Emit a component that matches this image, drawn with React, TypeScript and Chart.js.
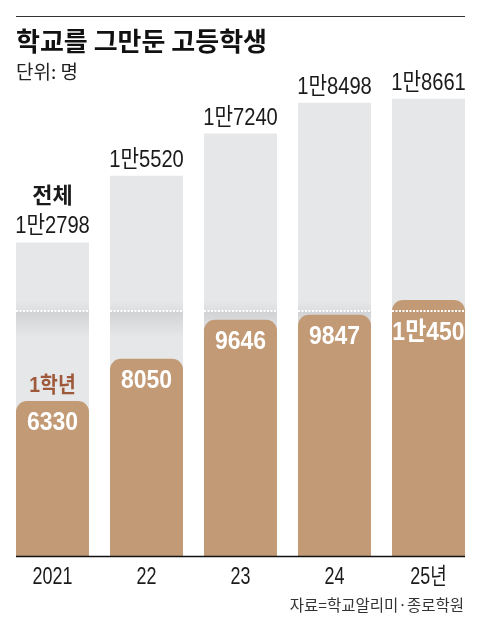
import React, { useEffect, useRef } from "react";
import { Chart, registerables } from "chart.js";

Chart.register(...registerables);

const categories = ["2021", "22", "23", "24", "25년"];
const totalValues = [12798, 15520, 17240, 18498, 18661];
const firstYearValues = [6330, 8050, 9646, 9847, 10450];
const totalLabels = ["1만2798", "1만5520", "1만7240", "1만8498", "1만8661"];
const firstYearLabels = ["6330", "8050", "9646", "9847", "1만450"];
const breakValue = 10000;
const yMax = 19000;
const titleText = "학교를 그만둔 고등학생";
const unitText = "단위: 명";
const totalSeriesName = "전체";
const firstYearSeriesName = "1학년";
const sourceText = "자료=학교알리미·종로학원";

const NUM_FONT = "'Liberation Sans', 'Noto Sans CJK KR', sans-serif";
const KR_FONT = "'Noto Sans CJK KR', 'Noto Sans', sans-serif";

const GRAY = "#e6e7e8";
const BROWN = "#c29a75";
const BROWN_TEXT = "#9e583a";

function condensedText(ctx: CanvasRenderingContext2D, text: string, x: number, y: number, sx: number) {
  ctx.save();
  ctx.translate(x, y);
  ctx.scale(sx, 1);
  ctx.fillText(text, 0, 0);
  ctx.restore();
}

const decorPlugin = {
  id: "decor",
  afterDatasetDraw(chart: any, args: any) {
    if (args.index !== 1) return;
    const ctx = chart.ctx;
    const y = chart.scales.y.getPixelForValue(breakValue);
    ctx.save();
    args.meta.data.forEach((bar: any) => {
      const { x, width } = bar.getProps(["x", "width"], true);
      const left = x - width / 2;
      const g = ctx.createLinearGradient(0, y, 0, y + 26);
      g.addColorStop(0, "rgba(150,155,160,0.28)");
      g.addColorStop(1, "rgba(150,155,160,0)");
      ctx.fillStyle = g;
      ctx.fillRect(left, y, width, 26);
      const g2 = ctx.createLinearGradient(0, y - 10, 0, y);
      g2.addColorStop(0, "rgba(150,155,160,0)");
      g2.addColorStop(1, "rgba(150,155,160,0.12)");
      ctx.fillStyle = g2;
      ctx.fillRect(left, y - 10, width, 10);
    });
    ctx.restore();
  },
  afterDatasetsDraw(chart: any) {
    const ctx = chart.ctx;
    const yScale = chart.scales.y;
    const xScale = chart.scales.x;
    const lineY = yScale.getPixelForValue(breakValue);
    const grayMeta = chart.getDatasetMeta(1);
    const brownMeta = chart.getDatasetMeta(0);
    ctx.save();
    // dotted break lines
    grayMeta.data.forEach((bar: any) => {
      const { x, width } = bar.getProps(["x", "width"], true);
      ctx.strokeStyle = "#ffffff";
      ctx.lineWidth = 2;
      ctx.setLineDash([2, 1.5]);
      ctx.beginPath();
      ctx.moveTo(x - width / 2, lineY);
      ctx.lineTo(x + width / 2, lineY);
      ctx.stroke();
    });
    ctx.setLineDash([]);

    ctx.textAlign = "center";
    ctx.textBaseline = "alphabetic";
    // total labels
    grayMeta.data.forEach((bar: any, i: number) => {
      const { x, y } = bar.getProps(["x", "y"], true);
      ctx.fillStyle = "#1a1a1a";
      ctx.font = `400 24px ${NUM_FONT}`;
      condensedText(ctx, totalLabels[i], x, y - 9, 0.84);
      if (i === 0) {
        ctx.font = `700 22px ${KR_FONT}`;
        ctx.fillText(totalSeriesName, x, y - 39);
      }
    });

    // first-year labels
    brownMeta.data.forEach((bar: any, i: number) => {
      const { x, y } = bar.getProps(["x", "y"], true);
      const top = Math.max(y, lineY);
      ctx.fillStyle = "#ffffff";
      ctx.font = `700 25px ${NUM_FONT}`;
      condensedText(ctx, firstYearLabels[i], x, top + 29, 0.92);
      if (i === 0) {
        ctx.fillStyle = BROWN_TEXT;
        ctx.font = `700 22px ${NUM_FONT}`;
        condensedText(ctx, firstYearSeriesName, x, y - 9, 0.88);
      }
    });

    // category labels at the x axis tick positions
    ctx.fillStyle = "#1a1a1a";
    ctx.font = `400 23px ${NUM_FONT}`;
    xScale.ticks.forEach((_t: any, i: number) => {
      const px = xScale.getPixelForTick(i);
      condensedText(ctx, xScale.getLabelForValue(i), px, chart.chartArea.bottom + 28, 0.78);
    });

    // baseline
    const first = grayMeta.data[0].getProps(["x", "width"], true);
    const last = grayMeta.data[grayMeta.data.length - 1].getProps(["x", "width"], true);
    ctx.strokeStyle = "#111111";
    ctx.lineWidth = 1.5;
    ctx.beginPath();
    ctx.moveTo(first.x - first.width / 2, chart.chartArea.bottom + 0.5);
    ctx.lineTo(last.x + last.width / 2, chart.chartArea.bottom + 0.5);
    ctx.stroke();
    ctx.restore();
  },
  afterDraw(chart: any) {
    const ctx = chart.ctx;
    ctx.save();
    // top rule
    ctx.strokeStyle = "#333333";
    ctx.lineWidth = 1;
    ctx.beginPath();
    ctx.moveTo(16, 16.5);
    ctx.lineTo(465, 16.5);
    ctx.stroke();
    // title
    ctx.fillStyle = "#111111";
    ctx.textAlign = "left";
    ctx.textBaseline = "middle";
    ctx.font = `700 26px ${KR_FONT}`;
    ctx.fillText(titleText, 16, 41);
    ctx.font = `400 19px ${KR_FONT}`;
    ctx.fillStyle = "#222222";
    ctx.fillText(unitText, 16, 72);
    // source
    ctx.textAlign = "right";
    ctx.font = `400 15.5px ${KR_FONT}`;
    ctx.fillStyle = "#333333";
    ctx.fillText(sourceText, 464, 605);
    ctx.restore();
  },
};

export default function App() {
  const canvasRef = useRef<HTMLCanvasElement | null>(null);

  useEffect(() => {
    if (!canvasRef.current) return;
    const chart = new Chart(canvasRef.current, {
      type: "bar",
      data: {
        labels: categories,
        datasets: [
          {
            label: firstYearSeriesName,
            data: firstYearValues,
            backgroundColor: BROWN,
            borderRadius: { topLeft: 11, topRight: 11, bottomLeft: 0, bottomRight: 0 },
            borderSkipped: false,
            grouped: false,
            barPercentage: 0.7766,
            categoryPercentage: 1,
          },
          {
            label: totalSeriesName,
            data: totalValues,
            backgroundColor: GRAY,
            borderRadius: 0,
            grouped: false,
            barPercentage: 0.7766,
            categoryPercentage: 1,
          },
        ],
      },
      options: {
        responsive: true,
        maintainAspectRatio: false,
        animation: false,
        layout: { padding: { left: 5.5, right: 4.5, top: 90.5, bottom: 30.6 } },
        plugins: {
          legend: { display: false },
          tooltip: { enabled: false },
          title: { display: false },
        },
        scales: {
          x: {
            grid: { display: false, drawTicks: false },
            border: { display: false },
            ticks: {
              color: "rgba(0,0,0,0)",
              padding: 8,
              font: { family: NUM_FONT, size: 22, weight: "400" },
            },
          },
          y: {
            display: false,
            min: 0,
            max: yMax,
          },
        },
      },
      plugins: [decorPlugin],
    });
    return () => chart.destroy();
  }, []);

  return (
    <div style={{ position: "absolute", left: 0, top: 0, width: 480, height: 629, background: "#ffffff" }}>
      <canvas ref={canvasRef} />
    </div>
  );
}
